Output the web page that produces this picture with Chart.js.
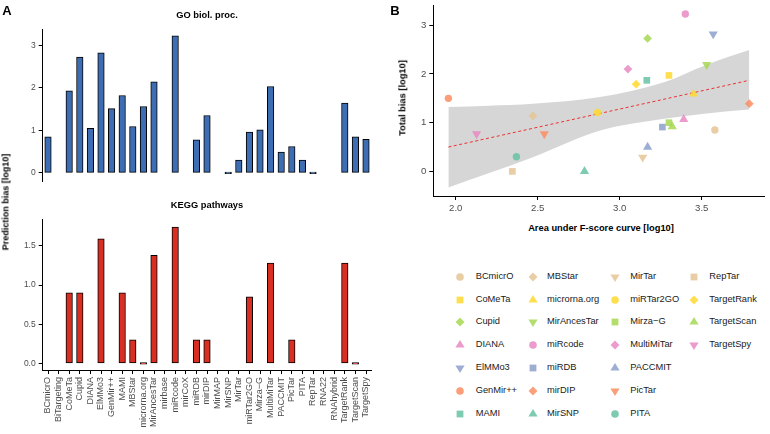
<!DOCTYPE html>
<html><head><meta charset="utf-8">
<script src="https://cdn.jsdelivr.net/npm/chart.js@4.4.1/dist/chart.umd.min.js"></script>
<style>
body{margin:0;background:#fff;width:770px;height:434px;overflow:hidden;position:relative;font-family:'Liberation Sans',Arial,Helvetica,sans-serif}
canvas{position:absolute}
.t{position:absolute;white-space:nowrap;color:#000;line-height:1;transform:translate(-50%,-50%)}
.b{font-weight:bold}
.r{transform:translate(-50%,-50%) rotate(-90deg)}
.li{position:absolute;white-space:nowrap;font-size:9.3px;line-height:1;color:#1a1a1a;transform:translateY(-50%)}
.ls{position:absolute;width:14px;height:14px;transform:translate(-50%,-50%)}
</style></head><body>
<canvas id="go" width="380" height="190" style="left:0;top:0"></canvas>
<canvas id="kegg" width="380" height="244" style="left:0;top:190px"></canvas>
<canvas id="sc" width="380" height="220" style="left:390px;top:0"></canvas>
<div id="legend"></div>
<div class="t b" style="left:7px;top:10px;font-size:13px">A</div>
<div class="t b" style="left:395px;top:9.5px;font-size:13px">B</div>
<div class="t b" style="left:207px;top:16px;font-size:9.3px">GO biol. proc.</div>
<div class="t b" style="left:207px;top:206px;font-size:9.3px">KEGG pathways</div>
<div class="t b r" style="left:6px;top:202px;font-size:9px">Prediction bias [log10]</div>
<div class="t b r" style="left:403px;top:98px;font-size:9.3px">Total bias [log10]</div>
<div class="t b" style="left:601px;top:229px;font-size:9.3px">Area under F-score curve [log10]</div>
<script>
// ---- data ----
const categories = ['BCmicrO','BiTargeting','CoMeTa','Cupid','DIANA','ElMMo3','GenMir++','MAMI','MBStar','microrna.org','MirAncesTar','mirbase','miRcode','mirCoX','miRDB','mirDIP','MirMAP','MirSNP','MirTar','miRTar2GO','Mirza\u2212G','MultiMiTar','PACCMIT','PicTar','PITA','RepTar','RNA22','RNAhybrid','TargetRank','TargetScan','TargetSpy'];
const goValues = [0.85,null,1.93,2.72,1.05,2.82,1.51,1.82,1.09,1.56,2.14,null,3.22,null,0.78,1.35,null,0,0.30,0.96,1.01,2.03,0.49,0.62,0.30,0,null,null,1.64,0.85,0.79];
const keggValues = [null,null,0.90,0.90,null,1.59,null,0.90,0.30,0,1.38,null,1.74,null,0.30,0.30,null,null,null,0.85,null,1.28,null,0.30,null,null,null,null,1.28,0,null];
const goTicks = [0,1,2,3];
const goTickLabels = ['0','1','2','3'];
const keggTicks = [0,0.5,1,1.5];
const keggTickLabels = ['0.0','0.5','1.0','1.5'];

const methods = ['BCmicrO','CoMeTa','Cupid','DIANA','ElMMo3','GenMir++','MAMI','MBStar','microrna.org','MirAncesTar','miRcode','miRDB','mirDIP','MirSNP','MirTar','miRTar2GO','Mirza\u2212G','MultiMiTar','PACCMIT','PicTar','PITA','RepTar','TargetRank','TargetScan','TargetSpy'];
const aucF = [3.58,3.30,3.17,3.39,3.57,1.955,3.165,2.47,3.45,3.53,3.40,3.26,3.79,2.785,3.14,2.865,3.30,3.05,3.17,2.54,2.37,2.345,3.10,3.32,2.127];
const totalBias = [0.85,1.97,2.73,1.07,2.82,1.50,1.87,1.14,1.59,2.19,3.23,0.91,1.39,0.0,0.29,1.21,1.00,2.10,0.50,0.77,0.30,0.0,1.79,0.92,0.77];
const fitX = [1.955,3.79];
const fitY = [0.50,1.87];
const bandX = [1.955,2.2,2.47,2.87,3.27,3.53,3.79];
const bandUpper = [1.32,1.35,1.39,1.52,1.83,2.19,2.49];
const bandLower = [-0.33,-0.04,0.29,0.83,1.08,1.19,1.27];
const xTicks = [2.0,2.5,3.0,3.5];
const xTickLabels = ['2.0','2.5','3.0','3.5'];
const yTicks = [0,1,2,3];
const yTickLabels = ['0','1','2','3'];

// ---- styles ----
const FONT = "'Liberation Sans', Arial, Helvetica, sans-serif";
const TICKC = '#4d4d4d';
const palette = ['229,196,148','255,217,47','166,216,84','231,138,195','141,160,203','252,141,98','102,194,165'];
const shapes = ['circle','rect','diamond','up','down'];
function shapeOf(i){return shapes[i%5];}
function colorOf(i,a){return 'rgba('+palette[i%7]+','+a+')';}
const ALPHA = 0.85;

function zeroPad(s){s.paddingTop=0;s.paddingBottom=0;s.paddingLeft=0;s.paddingRight=0;}

function barChart(id, values, color, tv, tl, yMin, yMax, showX){
  return new Chart(document.getElementById(id), {
    type:'bar',
    data:{labels:categories, datasets:[{data:values, backgroundColor:color, borderColor:'#000', borderWidth:1, borderSkipped:false, barThickness:6.5, minBarLength:1.5}]},
    options:{
      responsive:false, animation:false, events:[],
      layout:{padding:{top:29.3,left:0,right:8.7,bottom:showX?0:9}},
      plugins:{legend:{display:false},tooltip:{enabled:false}},
      scales:{
        x:{display:showX, offset:true,
           grid:{offset:false, drawOnChartArea:false, drawTicks:true, tickLength:4, color:'#000', lineWidth:1},
           border:{display:true,color:'#000',width:1},
           ticks:{autoSkip:false,minRotation:90,maxRotation:90,padding:3,color:TICKC,font:{family:FONT,size:9}},
           afterFit:s=>{s.height=showX?64:0;zeroPad(s);}},
        y:{min:yMin,max:yMax,
           afterBuildTicks:s=>{s.ticks=tv.map(v=>({value:v}));},
           afterFit:s=>{s.width=42.7;zeroPad(s);},
           grid:{drawOnChartArea:false,tickLength:4,color:'#000',lineWidth:1},
           border:{color:'#000',width:1},
           ticks:{callback:(v,i)=>tl[i],padding:3,color:TICKC,font:{family:FONT,size:8.5}}}
      }
    }
  });
}
barChart('go', goValues, '#3d6db3', goTicks, goTickLabels, -0.19, 3.375, false);
barChart('kegg', keggValues, '#d92e22', keggTicks, keggTickLabels, -0.085, 1.84, true);

function ptStyle(sh){return sh==='circle'?'circle':sh==='rect'?'rect':sh==='diamond'?'rectRot':'triangle';}
function ptRadius(sh){return sh==='circle'?3.7:sh==='rect'?4.7:sh==='diamond'?4.4:5.3;}

const pointSets = methods.map((m,i)=>{
  const sh = shapeOf(i);
  return {label:m, data:[{x:aucF[i],y:totalBias[i]}], pointStyle:ptStyle(sh), pointRotation:sh==='down'?180:0,
    pointRadius:ptRadius(sh), pointBackgroundColor:colorOf(i,ALPHA), pointBorderWidth:0, pointBorderColor:'rgba(0,0,0,0)', order:0, clip:false};
});

new Chart(document.getElementById('sc'), {
  type:'scatter',
  data:{datasets:[
    {type:'line', data:bandX.map((x,i)=>({x:x,y:bandUpper[i]})), borderColor:'rgba(0,0,0,0)', borderWidth:0, pointRadius:0, fill:'+1', backgroundColor:'rgba(153,153,153,0.4)', cubicInterpolationMode:'monotone', order:10},
    {type:'line', data:bandX.map((x,i)=>({x:x,y:bandLower[i]})), borderColor:'rgba(0,0,0,0)', borderWidth:0, pointRadius:0, fill:false, cubicInterpolationMode:'monotone', order:11},
    {type:'line', data:fitX.map((x,i)=>({x:x,y:fitY[i]})), borderColor:'rgba(240,30,30,0.9)', borderWidth:1, borderDash:[3,2.5], pointRadius:0, fill:false, order:5},
    ...pointSets
  ]},
  options:{
    responsive:false, animation:false, events:[],
    layout:{padding:{top:0.5,left:0,right:2,bottom:0}},
    plugins:{legend:{display:false},tooltip:{enabled:false}},
    scales:{
      x:{type:'linear',min:1.863,max:3.884,
         afterBuildTicks:s=>{s.ticks=xTicks.map(v=>({value:v}));},
         afterFit:s=>{s.height=24;zeroPad(s);},
         grid:{drawOnChartArea:false,tickLength:4,color:'#000',lineWidth:1},
         border:{color:'#000',width:1},
         ticks:{callback:(v,i)=>xTickLabels[i],padding:3,maxRotation:0,color:TICKC,font:{family:FONT,size:9.6}}},
      y:{type:'linear',min:-0.505,max:3.41,
         afterBuildTicks:s=>{s.ticks=yTicks.map(v=>({value:v}));},
         afterFit:s=>{s.width=43.3;zeroPad(s);},
         grid:{drawOnChartArea:false,tickLength:4,color:'#000',lineWidth:1},
         border:{color:'#000',width:1},
         ticks:{callback:(v,i)=>yTickLabels[i],padding:3,color:TICKC,font:{family:FONT,size:9.6}}}
    }
  }
});

// ---- legend (column-major, 7 rows) ----
const lg = document.getElementById('legend');
const symX = [460,532.7,615,694];
const txtX = [475.7,547,630.3,709.3];
const rowY0 = 276.7, rowDY = 22.8;
function svgShape(sh,col){
  let s='';
  if(sh==='circle') s='<circle cx="7" cy="7" r="3.8" fill="'+col+'"/>';
  else if(sh==='rect') s='<rect x="3.6" y="3.6" width="6.8" height="6.8" fill="'+col+'"/>';
  else if(sh==='diamond') s='<polygon points="7,2.6 11.4,7 7,11.4 2.6,7" fill="'+col+'"/>';
  else if(sh==='up') s='<polygon points="7,1.9 11.6,9.6 2.4,9.6" fill="'+col+'"/>';
  else s='<polygon points="7,12.1 11.6,4.4 2.4,4.4" fill="'+col+'"/>';
  return '<svg width="14" height="14" viewBox="0 0 14 14">'+s+'</svg>';
}
methods.forEach((m,i)=>{
  const c=Math.floor(i/7), r=i%7, y=rowY0+r*rowDY;
  const s=document.createElement('div'); s.className='ls'; s.style.left=symX[c]+'px'; s.style.top=y+'px';
  s.innerHTML=svgShape(shapeOf(i),colorOf(i,ALPHA)); lg.appendChild(s);
  const t=document.createElement('div'); t.className='li'; t.style.left=txtX[c]+'px'; t.style.top=y+'px';
  t.textContent=m; lg.appendChild(t);
});
</script>
</body></html>
